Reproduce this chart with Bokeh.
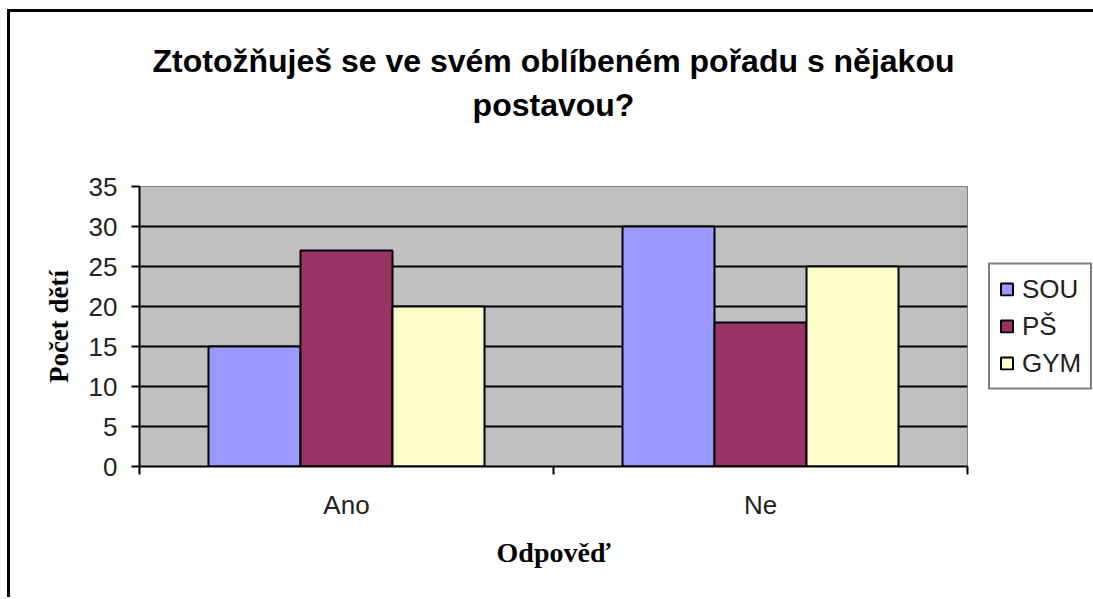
from bokeh.plotting import figure
from bokeh.models import FixedTicker, Legend, LegendItem, Title, Range1d
from bokeh.embed import file_html
from bokeh.resources import INLINE

categories = ["Ano", "Ne"]
series = ["SOU", "PŠ", "GYM"]
sou = [15, 30]
ps = [27, 18]
gym = [20, 25]
colors = ["#9999FF", "#993366", "#FFFFCC"]
y_ticks = [0, 5, 10, 15, 20, 25, 30, 35]
title_lines = ["Ztotožňuješ se ve svém oblíbeném pořadu s nějakou", "postavou?"]
x_label = "Odpověď"
y_label = "Počet dětí"

SANS = "Liberation Sans"
SERIF = "Liberation Serif"
FW, FH = 828, 280

p = figure(frame_width=FW, frame_height=FH, output_backend="svg", toolbar_location=None,
           x_range=Range1d(0, len(categories)), y_range=Range1d(0, 35),
           min_border_left=129, min_border_right=123, min_border_top=174, min_border_bottom=131)
p.styles = {"border-left": "3px solid black", "border-top": "3px solid black",
            "margin-top": "9px", "margin-left": "7px"}

p.background_fill_color = "#C0C0C0"
p.border_fill_color = "white"
p.outline_line_color = "#808080"
p.outline_line_width = 1

bw = 1 / 4.5
values = [sou, ps, gym]
items = []
for j, (name, vals, col) in enumerate(zip(series, values, colors)):
    xs = [i + 0.5 + (j - 1) * bw for i in range(len(categories))]
    r = p.vbar(x=xs, top=vals, width=bw, bottom=0, fill_color=col,
               line_color="black", line_width=2)
    items.append(LegendItem(label=name, renderers=[r]))

# grid
p.xgrid.visible = False
p.ygrid.ticker = FixedTicker(ticks=y_ticks[:-1])
p.ygrid.grid_line_color = "black"
p.ygrid.grid_line_width = 2
p.ygrid.level = "underlay"

# y axis
ya = p.yaxis[0]
ya.ticker = FixedTicker(ticks=y_ticks)
ya.axis_line_color = "black"
ya.axis_line_width = 2
ya.major_tick_line_color = "black"
ya.major_tick_line_width = 2
ya.major_tick_in = 0
ya.major_tick_out = 8
ya.minor_tick_line_color = None
ya.major_label_text_font = SANS
ya.major_label_text_font_size = "26px"
ya.major_label_text_color = "#222222"
ya.major_label_standoff = 14
ya.axis_label = y_label
ya.axis_label_text_font = SERIF
ya.axis_label_text_font_style = "bold"
ya.axis_label_text_font_size = "27px"
ya.axis_label_text_color = "black"
ya.axis_label_standoff = 12

# x axis
xa = p.xaxis[0]
xa.ticker = FixedTicker(ticks=[i + 0.5 for i in range(len(categories))],
                        minor_ticks=list(range(len(categories) + 1)))
xa.major_label_overrides = {i + 0.5: c for i, c in enumerate(categories)}
xa.axis_line_color = "black"
xa.axis_line_width = 2
xa.major_tick_in = 0
xa.major_tick_out = 0
xa.minor_tick_in = 0
xa.minor_tick_out = 8
xa.minor_tick_line_color = "black"
xa.minor_tick_line_width = 2
xa.major_label_text_font = SANS
xa.major_label_text_font_size = "26px"
xa.major_label_text_color = "#222222"
xa.major_label_standoff = 15
xa.axis_label = x_label
xa.axis_label_text_font = SERIF
xa.axis_label_text_font_style = "bold"
xa.axis_label_text_font_size = "28px"
xa.axis_label_text_color = "black"
xa.axis_label_standoff = 14

# legend
legend = Legend(items=items, location="center_left", margin=21,
                border_line_color="black", border_line_width=2,
                padding=9, spacing=6, glyph_width=15, glyph_height=15,
                label_standoff=8, label_height=31,
                label_text_font=SANS, label_text_font_size="26px",
                label_text_color="#222222", background_fill_color="white")
p.add_layout(legend, "right")

# title: white (invisible) spacer closest to the frame, then the two centred lines
spacer = Title(text=".", text_font=SANS, text_font_size="32px", standoff=39,
               text_color="white")
t2 = Title(text=title_lines[1], align="center", text_font=SANS, text_font_style="bold",
           text_font_size="32px", text_color="black", standoff=2)
t1 = Title(text=title_lines[0], align="center", text_font=SANS, text_font_style="bold",
           text_font_size="32px", text_color="black", standoff=10)
p.add_layout(spacer, "above")
p.add_layout(t2, "above")
p.add_layout(t1, "above")

open("out.html", "w").write(file_html(p, INLINE))
